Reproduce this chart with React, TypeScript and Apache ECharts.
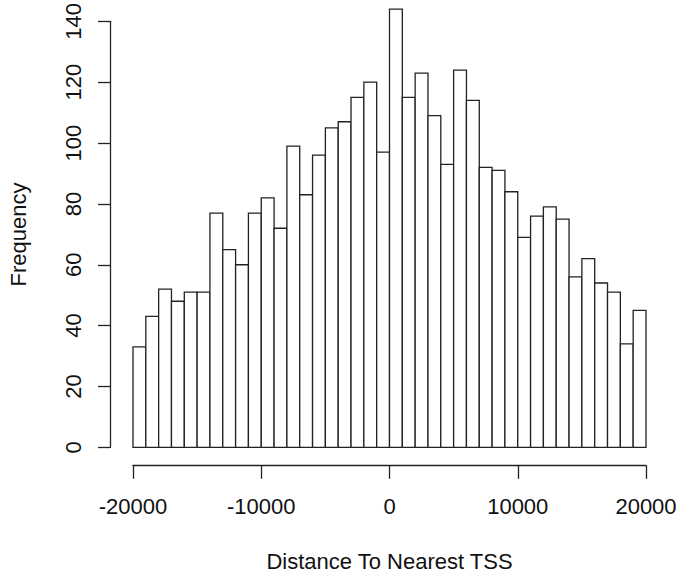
import React, { useEffect, useRef } from "react";
import * as echarts from "echarts";

const binStarts = [
  -20000, -19000, -18000, -17000, -16000, -15000, -14000, -13000, -12000, -11000,
  -10000, -9000, -8000, -7000, -6000, -5000, -4000, -3000, -2000, -1000,
  0, 1000, 2000, 3000, 4000, 5000, 6000, 7000, 8000, 9000,
  10000, 11000, 12000, 13000, 14000, 15000, 16000, 17000, 18000, 19000,
];
const binWidth = 1000;
const frequencies = [
  33, 43, 52, 48, 51, 51, 77, 65, 60, 77,
  82, 72, 99, 83, 96, 105, 107, 115, 120, 97,
  144, 115, 123, 109, 93, 124, 114, 92, 91, 84,
  69, 76, 79, 75, 56, 62, 54, 51, 34, 45,
];
const xTicks = [-20000, -10000, 0, 10000, 20000];
const yTicks = [0, 20, 40, 60, 80, 100, 120, 140];

const FONT = "'Liberation Sans', Arial, Helvetica, sans-serif";
const INK = "#222";
const TEXT = "#111";

export default function App() {
  const ref = useRef<HTMLDivElement>(null);
  useEffect(() => {
    if (!ref.current) return;
    const chart = echarts.init(ref.current, null, { renderer: "svg" });
    const data = binStarts.map((s, i) => [s, frequencies[i]]);
    chart.setOption({
      animation: false,
      backgroundColor: "#fff",
      grid: { left: 133, right: 39, top: 20.7, bottom: 128.7, containLabel: false },
      xAxis: {
        type: "value",
        min: xTicks[0],
        max: xTicks[xTicks.length - 1],
        interval: 10000,
        offset: 18,
        axisLine: { show: true, onZero: false, lineStyle: { color: INK, width: 1.3 } },
        axisTick: { show: true, length: 13.5, lineStyle: { color: INK, width: 1.3 } },
        axisLabel: {
          color: TEXT,
          fontFamily: FONT,
          fontSize: 22,
          margin: 30,
          formatter: (v: number) => String(v),
        },
        splitLine: { show: false },
      },
      yAxis: {
        type: "value",
        min: yTicks[0],
        max: yTicks[yTicks.length - 1],
        interval: 20,
        offset: 23,
        axisLine: { show: true, onZero: false, lineStyle: { color: INK, width: 1.3 } },
        axisTick: { show: true, length: 12, lineStyle: { color: INK, width: 1.3 } },
        axisLabel: {
          color: TEXT,
          fontFamily: FONT,
          fontSize: 22,
          margin: 26,
          rotate: 90,
          formatter: (v: number) => String(v),
        },
        splitLine: { show: false },
      },
      graphic: [
        {
          type: "text",
          x: 389.5,
          y: 561,
          style: {
            text: "Distance To Nearest TSS",
            align: "center",
            verticalAlign: "middle",
            fontFamily: FONT,
            fontSize: 22,
            fill: TEXT,
          },
        },
        {
          type: "text",
          x: 18,
          y: 234.5,
          rotation: Math.PI / 2,
          style: {
            text: "Frequency",
            align: "center",
            verticalAlign: "middle",
            fontFamily: FONT,
            fontSize: 22,
            fill: TEXT,
          },
        },
      ],
      series: [
        {
          type: "custom",
          clip: false,
          encode: { x: 0, y: 1 },
          data,
          renderItem: (params: any, api: any) => {
            const x0 = api.value(0);
            const y = api.value(1);
            const p0 = api.coord([x0, 0]);
            const p1 = api.coord([x0 + binWidth, y]);
            return {
              type: "rect",
              shape: { x: p0[0], y: p1[1], width: p1[0] - p0[0], height: p0[1] - p1[1] },
              style: { fill: "#fff", stroke: INK, lineWidth: 1.3 },
            };
          },
        },
      ],
    });
    return () => chart.dispose();
  }, []);
  return (
    <div
      ref={ref}
      style={{ position: "fixed", left: 0, top: 0, width: 685, height: 576 }}
    />
  );
}
